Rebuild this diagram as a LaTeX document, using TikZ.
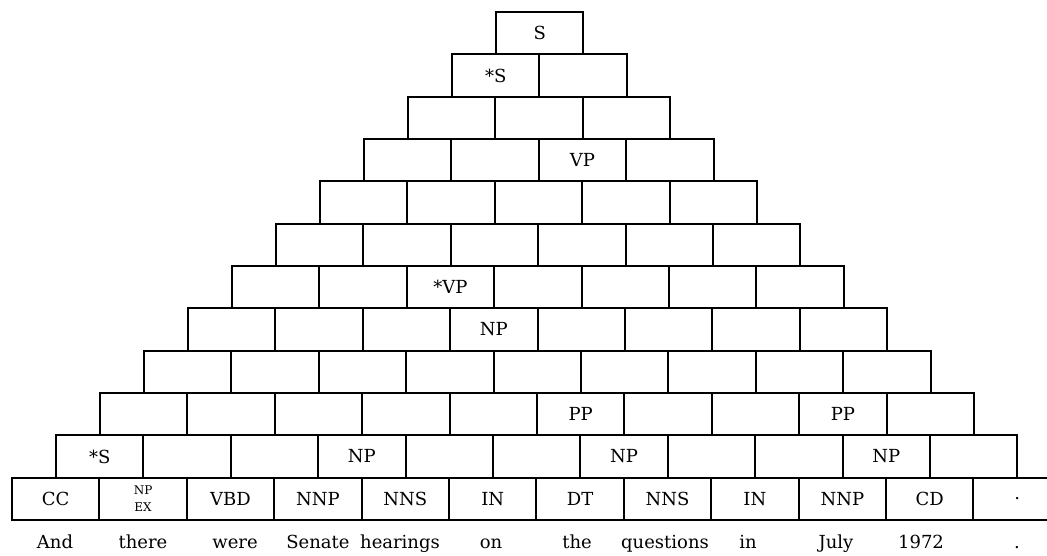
\documentclass[tikz,border=0pt]{standalone}
\usepackage{fontspec}
\setmainfont{DejaVu Serif}
\begin{document}
\begin{tikzpicture}[x=1pt,y=-1pt,
  cell/.style={draw, line width=2pt, minimum width=87.4pt, minimum height=42.33pt,
    inner sep=0pt, outer sep=0pt, font=\fontsize{18}{20}\selectfont},
  word/.style={anchor=base, inner sep=0pt, font=\fontsize{18}{20}\selectfont},
  rule/.style={line width=2pt}]
\useasboundingbox (0,0) rectangle (1047,556);
\clip (0,0) rectangle (1047,556);
% labels of the chart cells (row from bottom, index from left)
\expandafter\def\csname lab-1-0\endcsname{*S}
\expandafter\def\csname lab-1-3\endcsname{NP}
\expandafter\def\csname lab-1-6\endcsname{NP}
\expandafter\def\csname lab-1-9\endcsname{NP}
\expandafter\def\csname lab-2-5\endcsname{PP}
\expandafter\def\csname lab-2-8\endcsname{PP}
\expandafter\def\csname lab-4-3\endcsname{NP}
\expandafter\def\csname lab-5-2\endcsname{*VP}
\expandafter\def\csname lab-8-2\endcsname{VP}
\expandafter\def\csname lab-10-0\endcsname{*S}
\expandafter\def\csname lab-11-0\endcsname{S}
% upper rows
\foreach \k in {1,...,11}{
  \pgfmathtruncatemacro{\last}{11-\k}
  \foreach \i in {0,...,\last}{
    \node[cell] (c-\k-\i) at ({12+\k*44+(\i+0.5)*87.4},{520-(\k+0.5)*42.33})
      {\ifcsname lab-\k-\i\endcsname\csname lab-\k-\i\endcsname\fi};
  }
}
% POS row
\foreach \i/\t in {0/CC,1/{},2/VBD,3/NNP,4/NNS,5/IN,6/DT,7/NNS,8/IN,9/NNP,10/CD}{
  \node[cell] (c-0-\i) at ({12+(\i+0.5)*87.4},{520-0.5*42.33}) {\t};
}
\node[align=center, inner sep=0pt, font=\fontsize{12}{17.5}\selectfont] (npex) at (c-0-1.center) {NP\\EX};
\node[inner sep=0pt, font=\fontsize{18}{20}\selectfont] (c-0-11) at ({12+11.5*87.4},{520-0.5*42.33}) {.};
\draw[rule] (c-0-10.north east) -- +(100,0);
\draw[rule] (c-0-10.south east) -- +(100,0);
% words
\foreach \x/\w [count=\n] in {55/And,143/there,235/were,318/Senate,400/hearings,491/on,577/the,665/questions,748/in,836/July,921/1972,1017/.}{
  \node[word] (w\n) at (\x,548) {\w};
}
\end{tikzpicture}
\end{document}
